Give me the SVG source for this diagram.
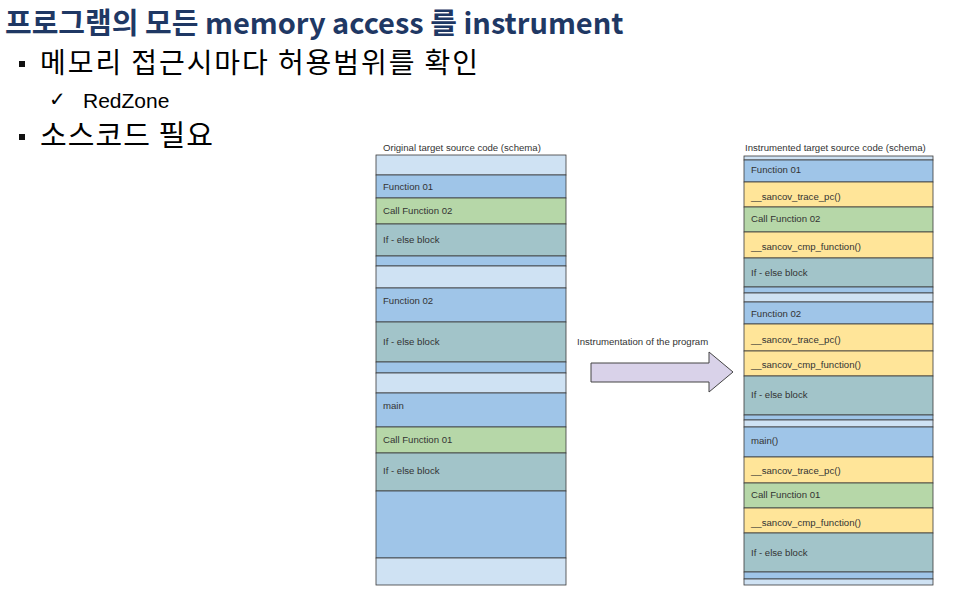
<svg xmlns="http://www.w3.org/2000/svg" width="962" height="603" viewBox="0 0 962 603">
<style>
.kr{font-family:"Noto Sans CJK KR","Noto Sans",sans-serif}
.lb{font-family:"Liberation Sans",Arial,sans-serif;font-size:9.6px;fill:#333}
.b rect{stroke:#3a3a3a;stroke-width:0.8}
.lt{fill:#cfe2f3}.bl{fill:#9fc5e8}.gr{fill:#b6d7a8}.tl{fill:#a2c4c9}.yl{fill:#ffe599}
</style>
<rect width="962" height="603" fill="#fff"/>
<g id="title">
<text x="5" y="34" class="kr" font-size="29" font-weight="bold" fill="#1f3864">프로그램의 모든 memory access 를 instrument</text>
</g>
<g id="bullets">
<rect x="19" y="61" width="6" height="6" fill="#111"/>
<text x="40" y="73" class="kr" font-size="28" fill="#000" textLength="438" lengthAdjust="spacing">메모리 접근시마다 허용범위를 확인</text>
<text x="49" y="106" font-family="DejaVu Sans,sans-serif" font-size="20" fill="#000">✓</text>
<text x="83" y="108" font-family="Liberation Sans,Arial,sans-serif" font-size="21" fill="#000">RedZone</text>
<rect x="19" y="134" width="6" height="6" fill="#111"/>
<text x="40" y="146" class="kr" font-size="29" fill="#000" textLength="173" lengthAdjust="spacing">소스코드 필요</text>
</g>
<g id="original" class="b">
<text x="383" y="151" class="lb">Original target source code (schema)</text>
<rect x="376" y="155" width="190" height="20" class="lt"/>
<rect x="376" y="175" width="190" height="23" class="bl"/>
<rect x="376" y="198" width="190" height="26" class="gr"/>
<rect x="376" y="224" width="190" height="32" class="tl"/>
<rect x="376" y="256" width="190" height="10" class="bl"/>
<rect x="376" y="266" width="190" height="22" class="lt"/>
<rect x="376" y="288" width="190" height="34" class="bl"/>
<rect x="376" y="322" width="190" height="40" class="tl"/>
<rect x="376" y="362" width="190" height="11" class="bl"/>
<rect x="376" y="373" width="190" height="20" class="lt"/>
<rect x="376" y="393" width="190" height="34" class="bl"/>
<rect x="376" y="427" width="190" height="26" class="gr"/>
<rect x="376" y="453" width="190" height="38" class="tl"/>
<rect x="376" y="491" width="190" height="67" class="bl"/>
<rect x="376" y="558" width="190" height="27" class="lt"/>
<text x="383" y="190" class="lb">Function 01</text>
<text x="383" y="214" class="lb">Call Function 02</text>
<text x="383" y="243" class="lb">If - else block</text>
<text x="383" y="304" class="lb">Function 02</text>
<text x="383" y="345" class="lb">If - else block</text>
<text x="383" y="409" class="lb">main</text>
<text x="383" y="443" class="lb">Call Function 01</text>
<text x="383" y="474" class="lb">If - else block</text>
</g>
<g id="instrumented" class="b">
<text x="745" y="151" class="lb">Instrumented target source code (schema)</text>
<rect x="744" y="156" width="189" height="4" class="lt"/>
<rect x="744" y="160" width="189" height="22" class="bl"/>
<rect x="744" y="182" width="189" height="25" class="yl"/>
<rect x="744" y="207" width="189" height="25" class="gr"/>
<rect x="744" y="232" width="189" height="26" class="yl"/>
<rect x="744" y="258" width="189" height="29" class="tl"/>
<rect x="744" y="287" width="189" height="6" class="bl"/>
<rect x="744" y="293" width="189" height="9" class="lt"/>
<rect x="744" y="302" width="189" height="22" class="bl"/>
<rect x="744" y="324" width="189" height="27" class="yl"/>
<rect x="744" y="351" width="189" height="25" class="yl"/>
<rect x="744" y="376" width="189" height="39" class="tl"/>
<rect x="744" y="415" width="189" height="5" class="bl"/>
<rect x="744" y="420" width="189" height="7" class="lt"/>
<rect x="744" y="427" width="189" height="30" class="bl"/>
<rect x="744" y="457" width="189" height="26" class="yl"/>
<rect x="744" y="483" width="189" height="25" class="gr"/>
<rect x="744" y="508" width="189" height="25" class="yl"/>
<rect x="744" y="533" width="189" height="39" class="tl"/>
<rect x="744" y="572" width="189" height="7" class="bl"/>
<rect x="744" y="579" width="189" height="6" class="lt"/>
<text x="751" y="173" class="lb">Function 01</text>
<text x="751" y="200" class="lb">__sancov_trace_pc()</text>
<text x="751" y="222" class="lb">Call Function 02</text>
<text x="751" y="250" class="lb">__sancov_cmp_function()</text>
<text x="751" y="276" class="lb">If - else block</text>
<text x="751" y="317" class="lb">Function 02</text>
<text x="751" y="343" class="lb">__sancov_trace_pc()</text>
<text x="751" y="368" class="lb">__sancov_cmp_function()</text>
<text x="751" y="398" class="lb">If - else block</text>
<text x="751" y="444" class="lb">main()</text>
<text x="751" y="474" class="lb">__sancov_trace_pc()</text>
<text x="751" y="498" class="lb">Call Function 01</text>
<text x="751" y="526" class="lb">__sancov_cmp_function()</text>
<text x="751" y="556" class="lb">If - else block</text>
</g>
<g id="connectors">
<text x="577" y="345" class="lb" font-size="9.3">Instrumentation of the program</text>
<polygon points="591,363 709,363 709,352 733,372 709,392 709,382 591,382" fill="#d9d2e9" stroke="#444" stroke-width="1"/>
</g>
</svg>
